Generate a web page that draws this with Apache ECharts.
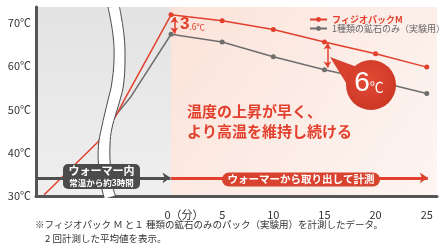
<!DOCTYPE html>
<html>
<head>
<meta charset="utf-8">
<script src="https://cdn.jsdelivr.net/npm/echarts@6/dist/echarts.min.js"></script>
<style>
html, body { margin: 0; padding: 0; background: #fff; }
#main { width: 442px; height: 250px; }
</style>
</head>
<body>
<div id="main"></div>
<script>
// 系列名
var seriesNames = ['フィジオパックM', '1種類の鉱石のみ（実験用）'];

// 経過時間（分）と温度（℃）　マイナスはウォーマー内
var redTime = [-12.4, -7.1, -5.4, -4.5, 0, 5, 10, 15, 20, 25];
var redTemp = [30.3, 42.6, 48.5, 52.5, 71.9, 70.5, 68.5, 65.6, 62.9, 59.8];
var grayTime = [-6.0, -4.0, 0, 5, 10, 15, 20, 25];
var grayTemp = [47.0, 52.7, 67.4, 65.6, 62.2, 59.2, 56.6, 53.7];

// 目盛り
var xGridTicks = [-10, -5, 0, 5, 10, 15, 20, 25];
var xLabelTicks = [0, 5, 10, 15, 20, 25];
var yTicks = [30, 40, 50, 60, 70];

var FONT = '"Noto Sans CJK JP", sans-serif';
var RED = '#e2402d';
var GRAY = '#6e6e6e';

function pairs(xs, ys) {
  return xs.map(function (x, i) { return [x, ys[i]]; });
}

var chart = echarts.init(document.getElementById('main'), null, { renderer: 'canvas' });

// 波線（省略）
var breakL = [[108, 7], [113, 35], [114, 60], [111.5, 85], [108, 100], [101.5, 128], [98.5, 145], [98.5, 165], [101, 185], [104, 197]];
var breakR = [[119.5, 7], [124, 35], [125, 60], [123.5, 85], [120, 100], [112, 128], [110, 145], [110.5, 168], [113, 188], [116, 197]];
var breakC = breakL.map(function (p, i) { return [(p[0] + breakR[i][0]) / 2, p[1]]; });

var option = {
  backgroundColor: '#ffffff',
  animation: false,
  textStyle: { fontFamily: FONT },
  grid: { left: 36, right: 5, top: 7, bottom: 54 },
  legend: {
    orient: 'vertical',
    left: 304,
    top: 10,
    itemWidth: 17,
    itemHeight: 6,
    itemGap: 0,
    textStyle: { fontSize: 9, fontFamily: FONT },
    data: [
      { name: seriesNames[0], textStyle: { color: RED, fontWeight: 'bold' } },
      { name: seriesNames[1], textStyle: { color: '#666' } }
    ]
  },
  xAxis: {
    type: 'value',
    min: -13.2,
    max: 26,
    z: 1,
    axisLine: { show: true, onZero: false, lineStyle: { color: '#555', width: 3 } },
    axisTick: { show: false, customValues: xGridTicks },
    splitLine: { show: true, lineStyle: { color: '#9a9a9a', width: 1 } },
    axisLabel: {
      customValues: xLabelTicks,
      margin: 13,
      fontSize: 11,
      color: '#333',
      formatter: function (v) {
        return v === 0 ? '{z|0（分）}' : String(v);
      },
      rich: {
        z: { fontSize: 11, color: '#333', padding: [0, 0, 0, 26] }
      }
    }
  },
  yAxis: {
    type: 'value',
    min: 30,
    max: 73.7,
    z: 1,
    axisLine: { show: true, onZero: false, lineStyle: { color: '#555', width: 3 } },
    axisTick: { show: false, customValues: yTicks },
    splitLine: { show: true, lineStyle: { color: '#a5a5a5', width: 1 } },
    axisLabel: {
      customValues: yTicks,
      margin: 5,
      fontSize: 11,
      color: '#333',
      formatter: '{value}℃'
    }
  },
  series: [
    {
      // 背景
      type: 'line',
      name: 'bg',
      z: 0,
      data: [],
      silent: true,
      markArea: {
        silent: true,
        data: [
          [{
            xAxis: -13.2,
            itemStyle: {
              color: new echarts.graphic.LinearGradient(0, 0, 0, 1, [
                { offset: 0, color: '#e3e3e3' },
                { offset: 1, color: '#efefef' }
              ])
            }
          }, { xAxis: 0 }],
          [{
            xAxis: 0,
            itemStyle: {
              color: new echarts.graphic.LinearGradient(0, 0, 1, 1, [
                { offset: 0, color: '#fbe3da' },
                { offset: 1, color: '#fdf5f2' }
              ])
            }
          }, { xAxis: 26 }]
        ]
      }
    },
    {
      name: seriesNames[1],
      type: 'line',
      z: 3,
      data: pairs(grayTime, grayTemp),
      symbol: 'circle',
      symbolSize: function (v) { return v[0] >= 0 ? 5 : 0; },
      lineStyle: { color: GRAY, width: 1.5 },
      itemStyle: { color: GRAY }
    },
    {
      name: seriesNames[0],
      type: 'line',
      z: 4,
      data: pairs(redTime, redTemp),
      symbol: 'circle',
      symbolSize: function (v) { return v[0] >= 0 ? 5 : 0; },
      lineStyle: { color: RED, width: 1.5 },
      itemStyle: { color: RED },
      markLine: {
        silent: true,
        label: { show: false },
        symbol: ['arrow', 'arrow'],
        symbolSize: [6, 6],
        lineStyle: { color: RED, width: 1.5, type: 'solid' },
        data: [
          [{ coord: [0.32, 71.4] }, { coord: [0.32, 67.6] }],
          [{ coord: [15.3, 65.3] }, { coord: [15.3, 59.7] }]
        ]
      }
    },
    {
      // 時間の矢印
      type: 'line',
      name: 'arrows',
      z: 5,
      data: [],
      markLine: {
        silent: true,
        label: { show: false },
        symbol: ['none', 'arrow'],
        symbolSize: [8, 8],
        data: [
          [{ coord: [-13.2, 34.2], lineStyle: { color: '#4f4f4f', width: 3, type: 'solid' } }, { coord: [-0.05, 34.2] }],
          [{ coord: [0, 34.2], lineStyle: { color: RED, width: 3, type: 'solid' } }, { coord: [25.1, 34.2] }]
        ]
      }
    }
  ],
  graphic: [
    { type: 'polyline', z: 10, shape: { points: breakC, smooth: 0.4 }, style: { stroke: '#ffffff', lineWidth: 11, fill: null } },
    { type: 'polyline', z: 11, shape: { points: breakL, smooth: 0.4 }, style: { stroke: '#4a4a4a', lineWidth: 1, fill: null } },
    { type: 'polyline', z: 11, shape: { points: breakR, smooth: 0.4 }, style: { stroke: '#4a4a4a', lineWidth: 1, fill: null } },

    // ウォーマー内
    { type: 'rect', z: 20, shape: { x: 63, y: 164, width: 77, height: 25, r: 5 }, style: { fill: '#4b4b4b' } },
    { type: 'text', z: 21, x: 101.5, y: 171, style: { text: 'ウォーマー内', fill: '#fff', font: 'bold 11px ' + FONT, textAlign: 'center', textVerticalAlign: 'middle' } },
    { type: 'text', z: 21, x: 101.5, y: 183, style: { text: '常温から約3時間', fill: '#fff', font: 'bold 8.5px ' + FONT, textAlign: 'center', textVerticalAlign: 'middle' } },

    // 取り出して計測
    { type: 'rect', z: 20, shape: { x: 222, y: 172.5, width: 158, height: 14, r: 7 }, style: { fill: '#d8432f' } },
    { type: 'text', z: 21, x: 301, y: 179.5, style: { text: 'ウォーマーから取り出して計測', fill: '#fff', font: 'bold 10.5px ' + FONT, textAlign: 'center', textVerticalAlign: 'middle' } },

    // 本文
    { type: 'text', z: 20, x: 187, y: 111.5, style: { text: '温度の上昇が早く、', fill: RED, font: 'bold 15px ' + FONT, textVerticalAlign: 'middle' } },
    { type: 'text', z: 20, x: 187, y: 131.5, style: { text: 'より高温を維持し続ける', fill: RED, font: 'bold 15px ' + FONT, textVerticalAlign: 'middle' } },

    // 3.6℃
    {
      type: 'text', z: 20, x: 180, y: 33,
      style: {
        text: '{a|3}{b|.6℃}',
        textVerticalAlign: 'bottom',
        rich: {
          a: { fontSize: 17, fontFamily: 'Liberation Sans', fill: RED, fontWeight: 'bold', verticalAlign: 'bottom' },
          b: { fontSize: 8.5, fontFamily: FONT, fill: RED, verticalAlign: 'bottom', padding: [0, 0, 2, 0] }
        }
      }
    },

    // 6℃ 吹き出し
    { type: 'polygon', z: 20, shape: { points: [[330, 57], [357, 67], [351, 91]] }, style: { fill: '#d8412d' } },
    {
      type: 'circle', z: 20, shape: { cx: 371, cy: 85, r: 25 },
      style: {
        fill: new echarts.graphic.RadialGradient(0.45, 0.4, 0.7, [
          { offset: 0, color: '#e24a35' },
          { offset: 1, color: '#c93522' }
        ])
      }
    },
    {
      type: 'text', z: 21, x: 369, y: 97,
      style: {
        text: '{a|6}{b|℃}',
        textAlign: 'center',
        textVerticalAlign: 'bottom',
        rich: {
          a: { fontSize: 28, fontFamily: 'Liberation Sans', fill: '#fff', verticalAlign: 'bottom' },
          b: { fontSize: 14, fontFamily: FONT, fill: '#fff', verticalAlign: 'bottom', padding: [0, 0, 3, 0] }
        }
      }
    },

    // 注記
    { type: 'text', z: 20, left: 35, top: 220, style: { text: '※フィジオパック Ｍ と１ 種類の鉱石のみのパック（実験用）を計測したデータ。', fill: '#333', font: '9.5px ' + FONT } },
    { type: 'text', z: 20, left: 45, top: 234, style: { text: '2 回計測した平均値を表示。', fill: '#333', font: '9.5px ' + FONT } }
  ]
};

chart.setOption(option);
</script>
</body>
</html>
